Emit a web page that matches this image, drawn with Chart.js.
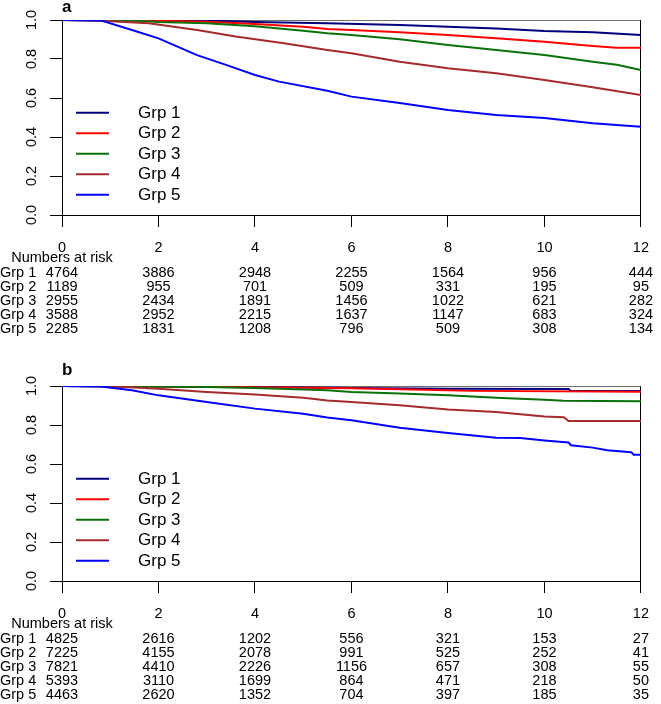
<!DOCTYPE html>
<html>
<head>
<meta charset="utf-8">
<script src="https://cdn.jsdelivr.net/npm/chart.js@4.4.1/dist/chart.umd.min.js"></script>
<style>
  html, body { margin: 0; padding: 0; background: #fff; }
  #wrap { position: relative; width: 661px; height: 704px; }
  canvas { position: absolute; left: 0; }
  #panelA { top: 0; }
  #panelB { top: 340px; }
</style>
</head>
<body>
<div id="wrap">
  <canvas id="panelA" width="661" height="340"></canvas>
  <canvas id="panelB" width="661" height="364"></canvas>
</div>
<script>
const groups = ["Grp 1", "Grp 2", "Grp 3", "Grp 4", "Grp 5"];
const colors = ["#000080", "#ff0000", "#0a700a", "#a52a2a", "#0000ff"];
const xTicks = [0, 2, 4, 6, 8, 10, 12];
const yTicks = [0, 0.2, 0.4, 0.6, 0.8, 1];
const yTickLabels = ["0.0", "0.2", "0.4", "0.6", "0.8", "1.0"];

// panel a: [time, survival]
const survA1 = [[0, 1], [3, 0.997], [4, 0.99], [5.5, 0.983], [7, 0.974], [8, 0.966], [9, 0.957], [10, 0.944], [11, 0.937], [12, 0.923]];
const survA2 = [[0, 1], [1.5, 0.998], [3, 0.991], [4, 0.979], [5, 0.966], [5.5, 0.954], [6, 0.949], [7, 0.937], [8, 0.923], [9, 0.906], [10, 0.889], [11, 0.867], [11.5, 0.858], [12, 0.858]];
const survA3 = [[0, 1], [1.5, 0.997], [2, 0.99], [3, 0.983], [4, 0.968], [5, 0.945], [5.5, 0.932], [6, 0.923], [7, 0.901], [8, 0.872], [9, 0.846], [10, 0.82], [11, 0.786], [11.5, 0.77], [12, 0.744]];
const survA4 = [[0, 1], [0.5, 0.998], [1, 0.993], [1.8, 0.983], [2.8, 0.949], [3.6, 0.915], [4.6, 0.881], [5.5, 0.846], [6, 0.829], [7, 0.786], [8, 0.752], [9, 0.727], [10, 0.692], [11, 0.655], [12, 0.615]];
const survA5 = [[0, 1], [0.8, 0.998], [1.45, 0.949], [2, 0.906], [2.8, 0.82], [3.4, 0.77], [4, 0.718], [4.5, 0.684], [5.5, 0.637], [6, 0.607], [7, 0.574], [8, 0.538], [9, 0.513], [10, 0.497], [11, 0.47], [12, 0.453]];

// panel b
const survB1 = [[0, 1], [2, 0.998], [4, 0.995], [6, 0.99], [8, 0.986], [10.5, 0.984], [10.55, 0.974], [12, 0.974]];
const survB2 = [[0, 1], [2, 0.998], [4, 0.993], [6, 0.988], [7, 0.983], [8.5, 0.975], [12, 0.97]];
const survB3 = [[0, 1], [2, 0.997], [3, 0.995], [4, 0.99], [5.5, 0.978], [6, 0.969], [7, 0.961], [8, 0.952], [9, 0.94], [10, 0.93], [10.4, 0.924], [12, 0.922]];
const survB4 = [[0, 1], [1, 0.999], [2, 0.986], [3, 0.969], [4, 0.957], [5, 0.94], [5.5, 0.926], [6, 0.918], [7, 0.901], [8, 0.879], [9, 0.867], [10, 0.844], [10.4, 0.84], [10.5, 0.82], [12, 0.82]];
const survB5 = [[0, 1], [0.8, 0.998], [1.45, 0.978], [2, 0.952], [3, 0.918], [4, 0.884], [5, 0.858], [5.5, 0.838], [6, 0.824], [7, 0.786], [8, 0.759], [9, 0.735], [9.5, 0.733], [10, 0.721], [10.5, 0.71], [10.55, 0.696], [11, 0.684], [11.3, 0.67], [11.8, 0.66], [11.85, 0.648], [12, 0.648]];

// numbers at risk at each x tick
const riskA = [
  [4764, 3886, 2948, 2255, 1564, 956, 444],
  [1189, 955, 701, 509, 331, 195, 95],
  [2955, 2434, 1891, 1456, 1022, 621, 282],
  [3588, 2952, 2215, 1637, 1147, 683, 324],
  [2285, 1831, 1208, 796, 509, 308, 134],
];
const riskB = [
  [4825, 2616, 1202, 556, 321, 153, 27],
  [7225, 4155, 2078, 991, 525, 252, 41],
  [7821, 4410, 2226, 1156, 657, 308, 55],
  [5393, 3110, 1699, 864, 471, 218, 50],
  [4463, 2620, 1352, 704, 397, 185, 35],
];

const FONT = "'Liberation Sans', Arial, Helvetica, sans-serif";
const TXT = 14.5;

function decor(letter, risk, opts) {
  return {
    id: "decor",
    beforeDatasetsDraw(chart) {
      const { ctx, chartArea: a } = chart;
      ctx.save();
      ctx.lineWidth = 1;
      ctx.strokeStyle = "#707070";
      ctx.beginPath();
      ctx.moveTo(a.left, Math.round(a.top) + 0.5);
      ctx.lineTo(a.right, Math.round(a.top) + 0.5);
      ctx.stroke();
      ctx.strokeStyle = "#000";
      ctx.beginPath();
      ctx.moveTo(Math.round(a.right) - 0.5, a.top);
      ctx.lineTo(Math.round(a.right) - 0.5, a.bottom);
      ctx.stroke();
      ctx.restore();
    },
    afterDraw(chart) {
      const { ctx, chartArea: a, scales: { x, y } } = chart;
      ctx.save();
      ctx.fillStyle = "#000";

      // panel letter
      ctx.font = `bold 17px ${FONT}`;
      ctx.textAlign = "left";
      ctx.textBaseline = "alphabetic";
      ctx.fillText(letter, 62, opts.letterY);

      // rotated y tick labels
      ctx.font = `${TXT}px ${FONT}`;
      ctx.textAlign = "center";
      ctx.textBaseline = "middle";
      yTicks.forEach((v, i) => {
        ctx.save();
        ctx.translate(32, y.getPixelForValue(v));
        ctx.rotate(-Math.PI / 2);
        ctx.fillText(yTickLabels[i], 0, 0);
        ctx.restore();
      });

      // legend inside the plot
      groups.forEach((g, i) => {
        const ly = a.top + 92.7 + i * 20.5;
        ctx.strokeStyle = colors[i];
        ctx.lineWidth = 2;
        ctx.beginPath();
        ctx.moveTo(76, ly);
        ctx.lineTo(109, ly);
        ctx.stroke();
        ctx.font = `17px ${FONT}`;
        ctx.textAlign = "left";
        ctx.fillText(g, 138, ly + 0.5);
      });

      // numbers at risk table
      ctx.font = `${TXT}px ${FONT}`;
      ctx.textAlign = "center";
      ctx.fillText("Numbers at risk", x.getPixelForValue(0), a.bottom + 43);
      risk.forEach((row, i) => {
        const ry = a.bottom + 58 + i * 13.9;
        ctx.textAlign = "left";
        ctx.fillText(groups[i], 0, ry);
        ctx.textAlign = "center";
        row.forEach((n, j) => ctx.fillText(String(n), x.getPixelForValue(xTicks[j]), ry));
      });
      ctx.restore();
    },
  };
}

function makePanel(id, letter, curves, risk, opts) {
  const canvas = document.getElementById(id);
  const H = canvas.height;
  return new Chart(canvas.getContext("2d"), {
    type: "line",
    data: {
      datasets: curves.map((c, i) => ({
        label: groups[i],
        data: c.map(p => ({ x: p[0], y: p[1] })),
        borderColor: colors[i],
        backgroundColor: colors[i],
        borderWidth: 2,
        pointRadius: 0,
        tension: 0,
        fill: false,
        order: curves.length - i,
      })),
    },
    options: {
      responsive: false,
      animation: false,
      events: [],
      layout: { padding: { top: opts.top, right: 12, left: 0, bottom: 0 } },
      plugins: { legend: { display: false }, tooltip: { enabled: false } },
      scales: {
        x: {
          type: "linear",
          min: 0,
          max: 12,
          afterBuildTicks: s => { s.ticks = xTicks.map(v => ({ value: v })); },
          ticks: { font: { family: FONT, size: TXT }, color: "#000", padding: 12, maxRotation: 0, autoSkip: false },
          grid: { drawOnChartArea: false, drawTicks: true, tickLength: 12, color: "#000" },
          border: { color: "#000" },
          afterFit: s => { s.height = H - opts.bottom; },
        },
        y: {
          type: "linear",
          min: 0,
          max: 1,
          afterBuildTicks: s => { s.ticks = yTicks.map(v => ({ value: v })); },
          ticks: { display: false },
          grid: { drawOnChartArea: false, drawTicks: true, tickLength: 12, color: "#000" },
          border: { color: "#000" },
          afterFit: s => { s.width = 62; },
        },
      },
    },
    plugins: [decor(letter, risk, opts)],
  });
}

makePanel("panelA", "a", [survA1, survA2, survA3, survA4, survA5], riskA, { top: 20, bottom: 215, letterY: 12 });
makePanel("panelB", "b", [survB1, survB2, survB3, survB4, survB5], riskB, { top: 46, bottom: 241, letterY: 35 });
</script>
</body>
</html>
